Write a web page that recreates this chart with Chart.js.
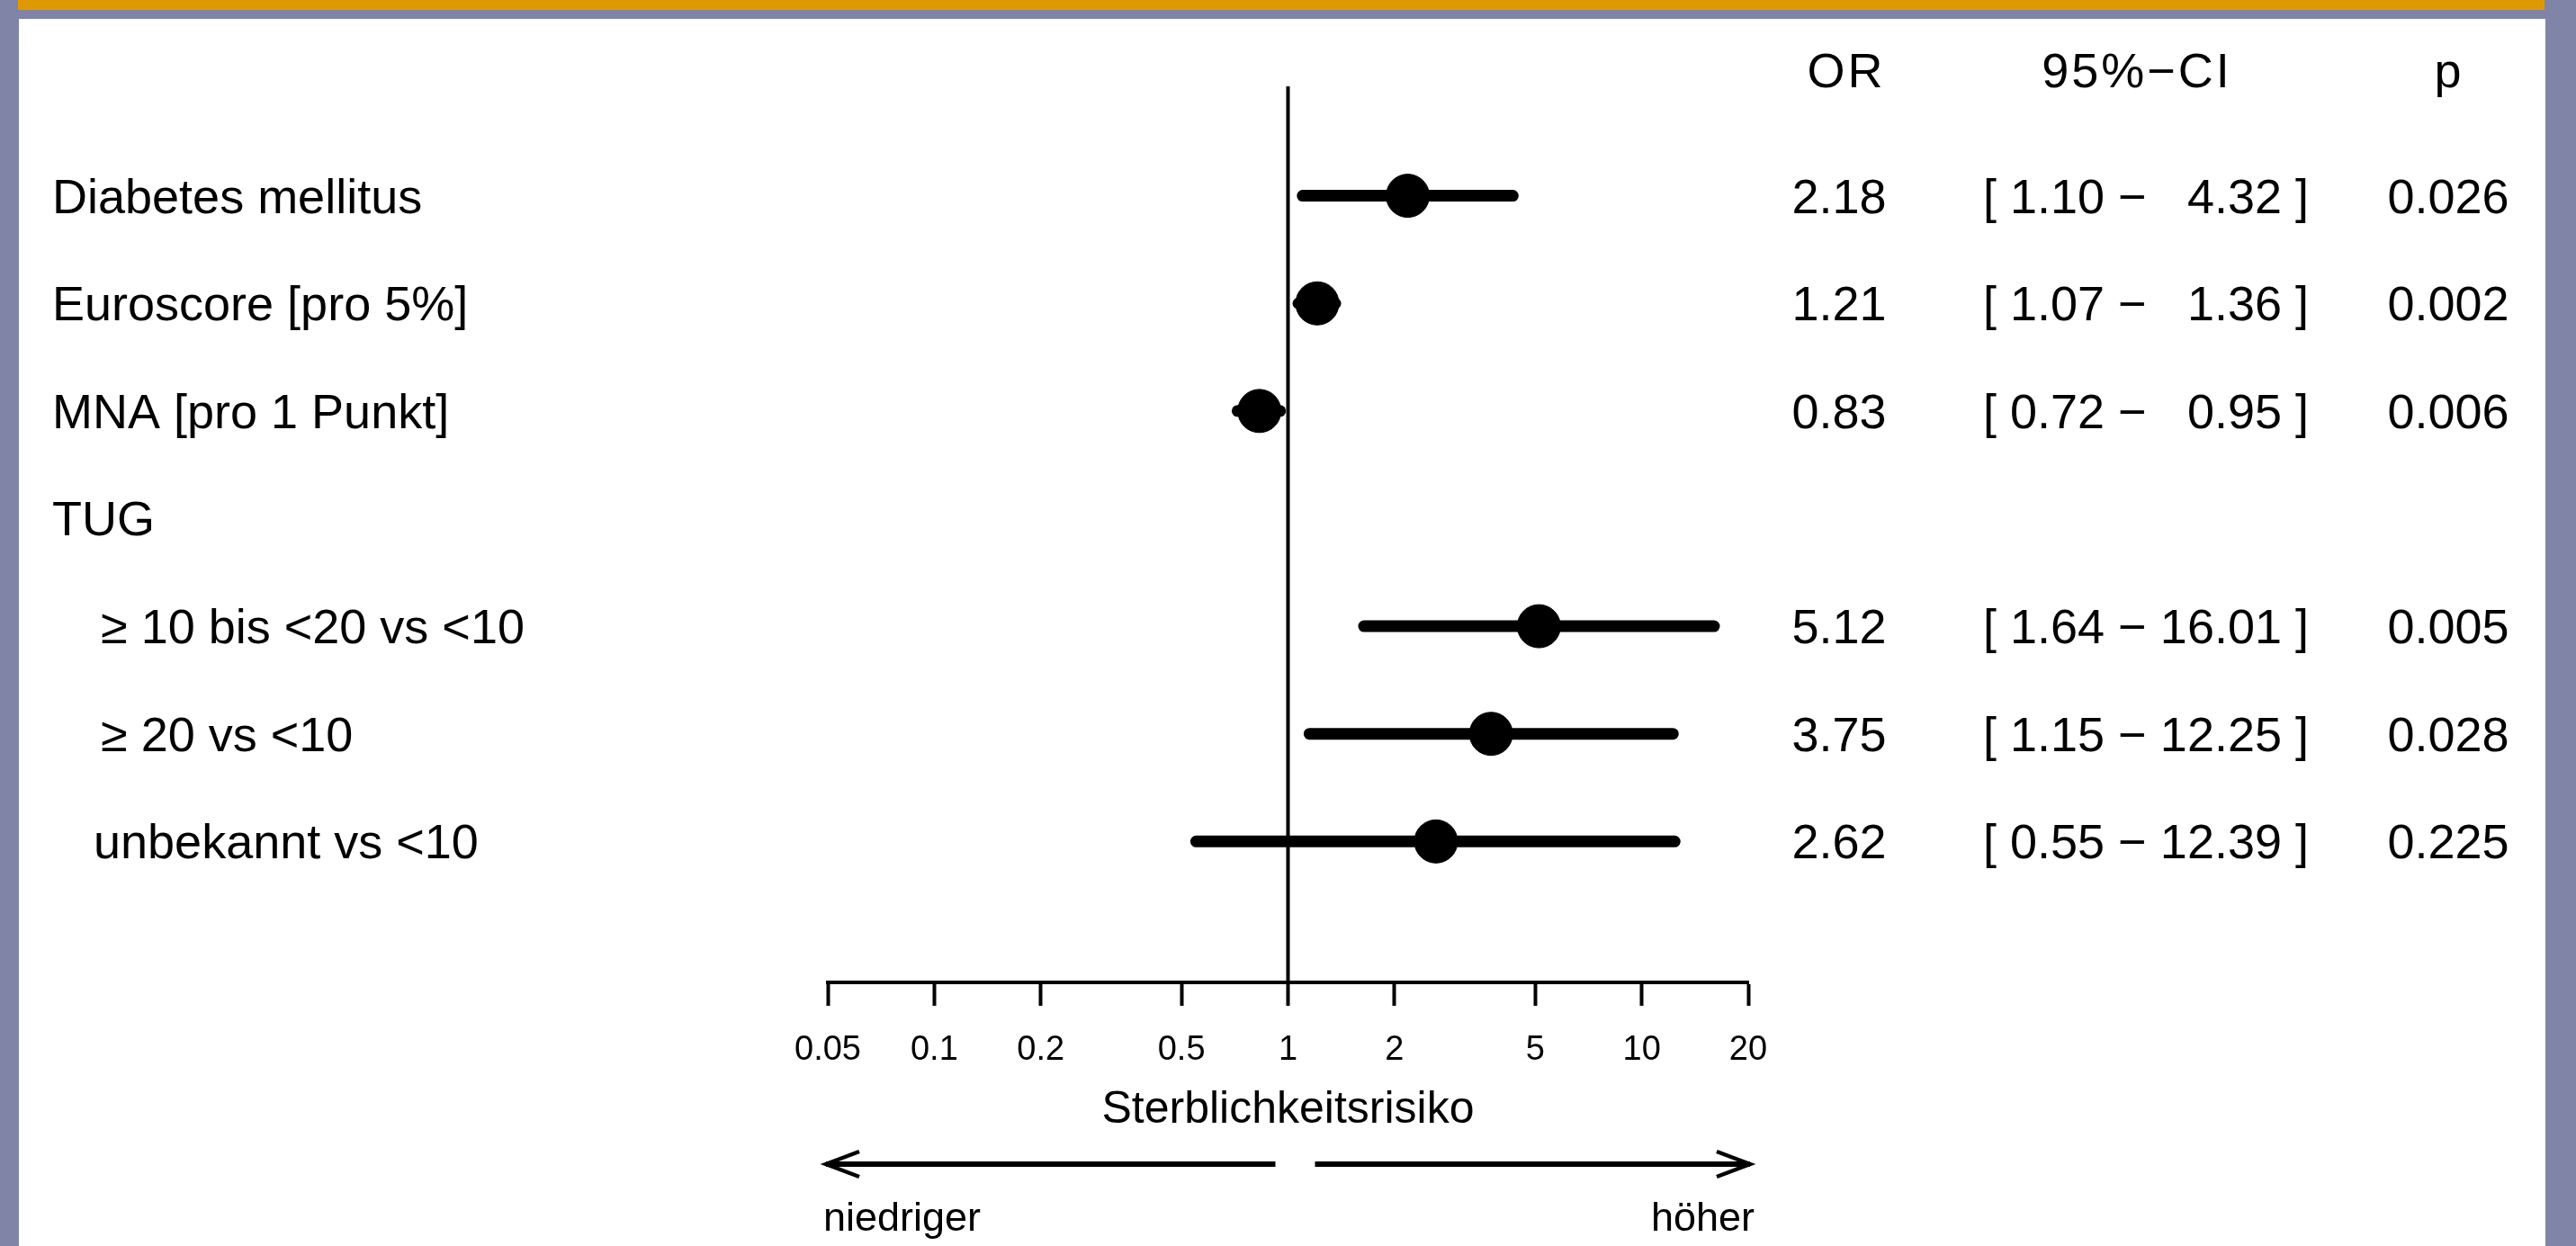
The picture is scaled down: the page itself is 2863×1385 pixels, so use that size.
<!DOCTYPE html>
<html lang="de">
<head>
<meta charset="UTF-8">
<title>Sterblichkeitsrisiko – Forest Plot</title>
<script src="https://cdn.jsdelivr.net/npm/chart.js"></script>
<style>
  html, body { margin: 0; padding: 0; background: #8084a6; }
  canvas { display: block; }
</style>
</head>
<body>
<canvas id="forest" width="2863" height="1385"></canvas>
<script>
// data, top row first
const rowLabels = ['Diabetes mellitus', 'Euroscore [pro 5%]', 'MNA [pro 1 Punkt]', 'TUG',
                   '\u2265 10 bis <20 vs <10', '\u2265 20 vs <10', 'unbekannt vs <10'];
const orValues = [2.18, 1.21, 0.83, null, 5.12, 3.75, 2.62];
const ciLower  = [1.10, 1.07, 0.72, null, 1.64, 1.15, 0.55];
const ciUpper  = [4.32, 1.36, 0.95, null, 16.01, 12.25, 12.39];
const pValues  = ['0.026', '0.002', '0.006', '', '0.005', '0.028', '0.225'];
const xTicks = [0.05, 0.1, 0.2, 0.5, 1, 2, 5, 10, 20];
const xTickLabels = ['0.05', '0.1', '0.2', '0.5', '1', '2', '5', '10', '20'];
const colHeaders = ['OR', '95%\u2212CI', 'p'];

const FONT = "'Liberation Sans', Arial, sans-serif";
Chart.defaults.font.family = FONT;
Chart.defaults.color = '#000';

// one line dataset per confidence interval
const ciSets = [];
rowLabels.forEach((lab, i) => {
    if (orValues[i] === null) return;
    ciSets.push({
        label: lab,
        data: [{ x: ciLower[i], y: i }, { x: ciUpper[i], y: i }],
        showLine: true,
        borderColor: '#000',
        borderWidth: 13,
        borderCapStyle: 'round',
        pointRadius: 0,
        order: 1
    });
});

const pointSet = {
    label: 'OR',
    data: orValues.map((v, i) => v === null ? null : { x: v, y: i }).filter(p => p),
    backgroundColor: '#000',
    borderColor: '#000',
    pointRadius: 24,
    pointHoverRadius: 24,
    order: 0
};

// background, header band and frame
const pageBg = {
    id: 'pageBg',
    beforeDraw(chart) {
        const c = chart.ctx;
        c.save();
        c.fillStyle = '#8084a6';
        c.fillRect(0, 0, chart.width, chart.height);
        c.fillStyle = '#df9900';
        c.fillRect(20, 0, 2808, 11);
        c.fillStyle = '#ffffff';
        c.fillRect(21, 21, 2808, chart.height - 21);
        c.restore();
    },
    beforeDatasetsDraw(chart) {
        // reference line at OR = 1
        const c = chart.ctx, x = chart.scales.x, area = chart.chartArea;
        const px = x.getPixelForValue(1);
        c.save();
        c.strokeStyle = '#000';
        c.lineWidth = 4;
        c.beginPath();
        c.moveTo(px, area.top - 2);
        c.lineTo(px, area.bottom);
        c.stroke();
        c.restore();
    }
};

// row labels, table columns, direction arrows
const tableText = {
    id: 'tableText',
    afterDraw(chart) {
        const c = chart.ctx, x = chart.scales.x, y = chart.scales.y;
        c.save();
        c.fillStyle = '#000';
        c.textBaseline = 'alphabetic';

        // headers
        const headY = y.getPixelForValue(-1) - 1;
        c.font = '54px ' + FONT;
        c.letterSpacing = '3px';
        c.textAlign = 'center';
        c.fillText(colHeaders[0], 2052, headY);
        c.fillText(colHeaders[1], 2375, headY);
        c.fillText(colHeaders[2], 2722, headY);
        c.letterSpacing = '0px';

        rowLabels.forEach((lab, i) => {
            const base = y.getPixelForValue(i) + 19;
            let indent = 58;
            if (lab.startsWith('\u2265')) indent = 112;
            else if (lab.startsWith('unbekannt')) indent = 104;
            c.textAlign = 'left';
            c.fillText(lab, indent, base);
            if (orValues[i] === null) return;
            c.textAlign = 'center';
            c.fillText(orValues[i].toFixed(2), 2044, base);
            c.textAlign = 'left';
            c.fillText('[ ' + ciLower[i].toFixed(2) + ' \u2212', 2204, base);
            c.textAlign = 'right';
            c.fillText(ciUpper[i].toFixed(2) + ' ]', 2566, base);
            c.textAlign = 'center';
            c.fillText(pValues[i], 2721, base);
        });

        // arrows below the axis
        const left = x.getPixelForValue(xTicks[0]) - 2;
        const right = x.getPixelForValue(xTicks[xTicks.length - 1]) + 2;
        const mid = x.getPixelForValue(1);
        const ay = 1294;
        c.strokeStyle = '#000';
        c.lineWidth = 6;
        c.lineCap = 'butt';
        c.beginPath();
        c.moveTo(left, ay); c.lineTo(mid - 14, ay);
        c.moveTo(mid + 30, ay); c.lineTo(right, ay);
        c.stroke();
        c.lineWidth = 4.5;
        c.beginPath();
        c.moveTo(left + 37, ay - 14); c.lineTo(left, ay); c.lineTo(left + 37, ay + 14);
        c.moveTo(right - 37, ay - 14); c.lineTo(right, ay); c.lineTo(right - 37, ay + 14);
        c.stroke();

        c.font = '45px ' + FONT;
        c.textAlign = 'left';
        c.fillText('niedriger', left - 3, 1368);
        c.textAlign = 'right';
        c.fillText('h\u00f6her', right + 5, 1368);
        c.restore();
    }
};

new Chart(document.getElementById('forest'), {
    type: 'scatter',
    data: { datasets: [pointSet, ...ciSets] },
    options: {
        responsive: false,
        animation: false,
        events: [],
        layout: { padding: { left: 920, right: 920, top: 98, bottom: 0 } },
        plugins: { legend: { display: false }, tooltip: { enabled: false } },
        scales: {
            x: {
                type: 'logarithmic',
                position: 'bottom',
                min: 0.05,
                max: 20,
                afterBuildTicks: s => { s.ticks = xTicks.map(v => ({ value: v })); },
                afterFit: s => { s.height = 293; },
                grid: { drawOnChartArea: false, drawTicks: true, tickLength: 26, tickWidth: 4, tickColor: '#000' },
                border: { display: true, color: '#000', width: 4 },
                ticks: {
                    autoSkip: false, maxRotation: 0, minRotation: 0, padding: 27,
                    color: '#000', font: { size: 38 },
                    callback: (v, i) => xTickLabels[i]
                },
                title: {
                    display: true, text: 'Sterblichkeitsrisiko', color: '#000',
                    font: { size: 50 }, padding: { top: 0, bottom: 121 }
                }
            },
            y: {
                type: 'linear',
                display: false,
                reverse: true,
                min: -1,
                max: 7.31
            }
        }
    },
    plugins: [pageBg, tableText]
});
</script>
</body>
</html>
